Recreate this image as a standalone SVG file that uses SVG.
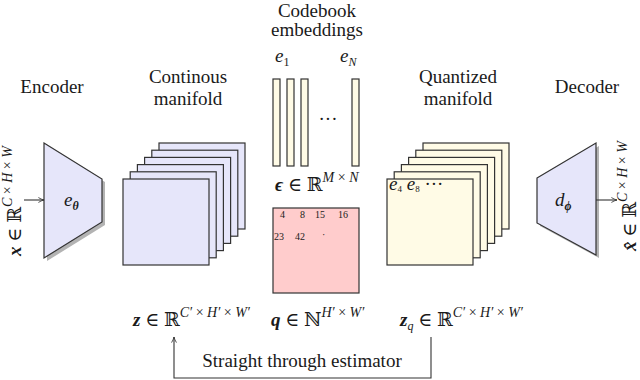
<svg xmlns="http://www.w3.org/2000/svg" width="640" height="380" viewBox="0 0 640 380" font-family="'Liberation Serif', 'DejaVu Serif', serif">
<style>
.t{font-family:'Liberation Serif','DejaVu Serif',serif;font-size:19px;fill:#1a1a1a;text-anchor:middle}
.m{font-family:'Liberation Serif','DejaVu Serif',serif;font-size:19px;fill:#1a1a1a}
.i{font-style:italic}
.b{font-style:italic;font-weight:bold}
.sup{font-size:14px}
.sub{font-size:12px}
.lav{fill:#e6e6fa;stroke:#333;stroke-width:1.2}
.yel{fill:#fffbe6;stroke:#333;stroke-width:1.2}
.red{fill:#ffcccc;stroke:#333;stroke-width:1.2}
.shadow{fill:#b3b3b3}
.ln{fill:none;stroke:#333;stroke-width:1.1}
.n{font-family:'Liberation Serif','DejaVu Serif',serif;font-size:10px;fill:#1a1a1a}
</style>
<defs>
<marker id="ah" viewBox="0 0 10 10" refX="9" refY="5" markerWidth="7" markerHeight="7" orient="auto" markerUnits="userSpaceOnUse">
<path d="M1,1.5 Q5,4 9,5 Q5,6 1,8.5" fill="none" stroke="#333" stroke-width="1.2"/>
</marker>
</defs>

<g id="encoder">
<text class="t" x="52" y="93">Encoder</text>
<polygon class="shadow" points="47,146 105,182 105,225 47,261"/>
<polygon class="lav" points="44,143 102,179 102,222 44,258"/>
<text class="m" x="64" y="206"><tspan class="i">e</tspan><tspan class="b sub" dy="4">θ</tspan></text>
</g>

<g id="input-label">
<text class="m" text-anchor="middle" transform="translate(21,201) rotate(-90)"><tspan class="b">x</tspan> ∈ ℝ<tspan class="i sup" dy="-9">C</tspan><tspan class="sup"> × </tspan><tspan class="i sup">H</tspan><tspan class="sup"> × </tspan><tspan class="i sup">W</tspan></text>
</g>

<g id="continuous">
<text class="t" x="188" y="83">Continous</text>
<text class="t" x="188" y="105">manifold</text>
<rect class="lav" x="159" y="143" width="86" height="86"/>
<rect class="lav" x="151.8" y="150.2" width="86" height="86"/>
<rect class="lav" x="144.6" y="157.4" width="86" height="86"/>
<rect class="lav" x="137.4" y="164.6" width="86" height="86"/>
<rect class="lav" x="130.2" y="171.8" width="86" height="86"/>
<rect class="lav" x="123" y="179" width="86" height="86"/>
<text class="m" x="133" y="326"><tspan class="b">z</tspan> ∈ ℝ<tspan class="i sup" dy="-9">C′</tspan><tspan class="sup"> × </tspan><tspan class="i sup">H′</tspan><tspan class="sup"> × </tspan><tspan class="i sup">W′</tspan></text>
</g>

<g id="codebook">
<text class="t" x="317" y="17" font-size="18">Codebook</text>
<text class="t" x="317" y="36" font-size="18">embeddings</text>
<text class="m" x="275" y="62"><tspan class="i">e</tspan><tspan class="sub" dy="4">1</tspan></text>
<text class="m" x="340" y="62"><tspan class="i">e</tspan><tspan class="i sub" dy="4">N</tspan></text>
<rect class="yel" x="273" y="79" width="7" height="87"/>
<rect class="yel" x="287" y="79" width="7" height="87"/>
<rect class="yel" x="301" y="79" width="7" height="87"/>
<rect class="yel" x="352" y="79" width="7" height="87"/>
<text class="m" x="328" y="125" text-anchor="middle">···</text>
<text class="m" x="275" y="191"><tspan class="b">ϵ</tspan> ∈ ℝ<tspan class="i sup" dy="-9">M</tspan><tspan class="sup"> × </tspan><tspan class="i sup">N</tspan></text>
</g>

<g id="indices">
<rect class="red" x="273" y="208" width="86" height="85"/>
<text class="n" x="280" y="218">4</text>
<text class="n" x="300" y="218">8</text>
<text class="n" x="315" y="218">15</text>
<text class="n" x="338" y="218">16</text>
<text class="n" x="274" y="240">23</text>
<text class="n" x="295" y="240">42</text>
<text class="n" x="322" y="238">·</text>
<text class="m" x="271" y="326"><tspan class="b">q</tspan> ∈ ℕ<tspan class="i sup" dy="-9">H′</tspan><tspan class="sup"> × </tspan><tspan class="i sup">W′</tspan></text>
</g>

<g id="quantized">
<text class="t" x="458" y="83">Quantized</text>
<text class="t" x="458" y="105">manifold</text>
<rect class="yel" x="423" y="143" width="86" height="86"/>
<rect class="yel" x="415.8" y="150.2" width="86" height="86"/>
<rect class="yel" x="408.6" y="157.4" width="86" height="86"/>
<rect class="yel" x="401.4" y="164.6" width="86" height="86"/>
<rect class="yel" x="394.2" y="171.8" width="86" height="86"/>
<rect class="yel" x="387" y="179" width="86" height="86"/>
<text class="m" x="389" y="190" font-size="13"><tspan class="i">e</tspan><tspan font-size="9" dy="2">4</tspan><tspan class="i" dy="-2"> e</tspan><tspan font-size="9" dy="2">8</tspan><tspan dy="-2"> ···</tspan></text>
<text class="m" x="400" y="326"><tspan class="b">z</tspan><tspan class="i sub" dy="4">q</tspan><tspan dy="-4"> ∈ ℝ</tspan><tspan class="i sup" dy="-9">C′</tspan><tspan class="sup"> × </tspan><tspan class="i sup">H′</tspan><tspan class="sup"> × </tspan><tspan class="i sup">W′</tspan></text>
</g>

<g id="decoder">
<text class="t" x="587" y="93">Decoder</text>
<polygon class="shadow" points="540,181 599,146 599,258 540,226"/>
<polygon class="lav" points="537,178 596,143 596,255 537,223"/>
<text class="m" x="555" y="206"><tspan class="i">d</tspan><tspan class="b sub" dy="4">ϕ</tspan></text>
</g>

<g id="output-label">
<text class="m" text-anchor="middle" transform="translate(636,196) rotate(-90)"><tspan class="b">x̂</tspan> ∈ ℝ<tspan class="i sup" dy="-9">C</tspan><tspan class="sup"> × </tspan><tspan class="i sup">H</tspan><tspan class="sup"> × </tspan><tspan class="i sup">W</tspan></text>
</g>

<g id="connectors">
<line class="ln" x1="24" y1="200" x2="44" y2="200" marker-end="url(#ah)"/>
<line class="ln" x1="596" y1="200" x2="617" y2="200" marker-end="url(#ah)"/>
<path class="ln" d="M431,337 V378 H174 V337" marker-end="url(#ah)"/>
<text class="t" x="302" y="367" font-size="17">Straight through estimator</text>
</g>
</svg>
